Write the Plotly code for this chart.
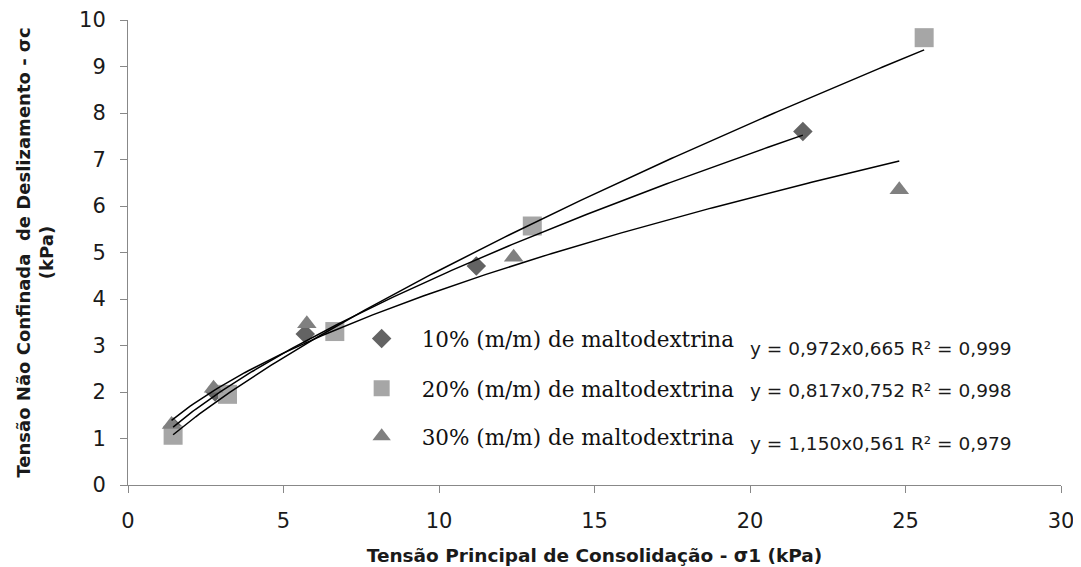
import numpy as np
import plotly.graph_objects as go

# ---- data ----
s10_x = [1.45, 2.8, 5.7, 11.2, 21.7]
s10_y = [1.25, 2.0, 3.25, 4.71, 7.6]
s20_x = [1.45, 3.2, 6.65, 13.0, 25.6]
s20_y = [1.07, 1.95, 3.3, 5.57, 9.62]
s30_x = [1.4, 2.75, 5.75, 12.4, 24.8]
s30_y = [1.3, 2.08, 3.47, 4.9, 6.35]

series_names = ["10% (m/m) de maltodextrina",
                "20% (m/m) de maltodextrina",
                "30% (m/m) de maltodextrina"]
fit_a = [0.972, 0.817, 1.150]
fit_b = [0.665, 0.752, 0.561]
equations = ["y = 0,972x0,665 R² = 0,999",
             "y = 0,817x0,752 R² = 0,998",
             "y = 1,150x0,561 R² = 0,979"]

x_ticks = [0, 5, 10, 15, 20, 25, 30]
y_ticks = [0, 1, 2, 3, 4, 5, 6, 7, 8, 9, 10]

xs = [s10_x, s20_x, s30_x]
ys = [s10_y, s20_y, s30_y]
symbols = ["diamond", "square", "triangle-up"]
colors = ["#636363", "#a6a6a6", "#808080"]
sizes = [15, 19, 17]
legends = ["legend", "legend2", "legend3"]

fig = go.Figure()
for i in range(3):
    fig.add_trace(go.Scatter(
        x=xs[i], y=ys[i], mode="markers", name=series_names[i],
        marker=dict(symbol=symbols[i], color=colors[i], size=sizes[i], line=dict(width=0)),
        legend=legends[i], showlegend=True))

for i in range(3):
    xf = np.linspace(min(xs[i]), max(xs[i]), 200)
    yf = fit_a[i] * xf ** fit_b[i]
    fig.add_trace(go.Scatter(x=xf, y=yf, mode="lines",
                             line=dict(color="black", width=1.5),
                             showlegend=False, hoverinfo="skip"))

tick_font = dict(family="DejaVu Sans", size=21, color="#1a1a1a")
title_font = dict(family="DejaVu Sans", size=18.5, color="#1a1a1a")

fig.update_xaxes(range=[0, 30], tickvals=x_ticks, showline=True, linecolor="#888888",
                 linewidth=1, ticks="outside", ticklen=7, tickcolor="#888888",
                 showgrid=False, zeroline=False, tickfont=tick_font,
                 ticklabelstandoff=10, automargin=False, ticklabeloverflow="allow",
                 title=dict(text="<b>Tensão Principal de Consolidação - σ1 (kPa)</b>",
                            font=title_font, standoff=16))
fig.update_yaxes(range=[0, 10], tickvals=y_ticks, showline=True, linecolor="#888888",
                 linewidth=1, ticks="outside", ticklen=7, tickcolor="#888888",
                 showgrid=False, zeroline=False, tickfont=tick_font,
                 ticklabelstandoff=10, automargin=False, ticklabeloverflow="allow",
                 title=dict(text="<b>Tensão Não Confinada  de Deslizamento - σc<br>(kPa)</b>",
                            font=dict(family="DejaVu Sans", size=18, color="#1a1a1a"),
                            standoff=20))

leg_common = dict(xanchor="left", yanchor="middle", bgcolor="rgba(0,0,0,0)",
                  font=dict(family="DejaVu Serif", size=21.5, color="#111111"),
                  borderwidth=0, itemwidth=70)
leg_x = 0.229
leg_y = [0.315, 0.208, 0.105]
fig.update_layout(
    legend=dict(x=leg_x, y=leg_y[0], **leg_common),
    legend2=dict(x=leg_x, y=leg_y[1], **leg_common),
    legend3=dict(x=leg_x, y=leg_y[2], **leg_common),
)

eq_y = [0.293, 0.203, 0.090]
for i in range(3):
    fig.add_annotation(x=0.664, y=eq_y[i], xref="paper", yref="paper",
                       xanchor="left", yanchor="middle", showarrow=False,
                       text=equations[i],
                       font=dict(family="DejaVu Sans", size=18.5, color="#1a1a1a"))

# the page body adds an 8px offset, so the figure is sized to fill the window
fig.update_layout(
    width=1073, height=561,
    margin=dict(l=120, r=20, t=12, b=84),
    plot_bgcolor="white", paper_bgcolor="white",
)

fig.write_html("out.html")
